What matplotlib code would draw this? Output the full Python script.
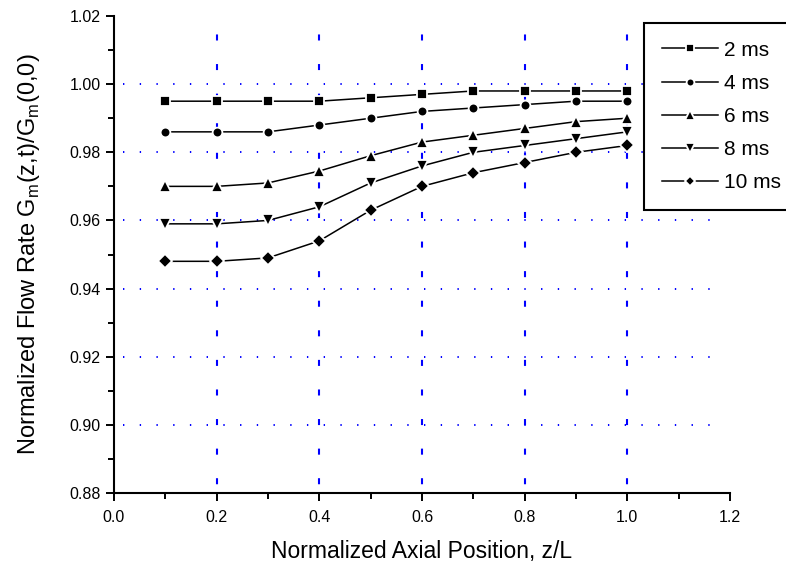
import numpy as np
import matplotlib
matplotlib.use('Agg')
import matplotlib.pyplot as plt
from matplotlib.ticker import MultipleLocator

# Normalized flow rate along the channel at several times
z = [0.1, 0.2, 0.3, 0.4, 0.5, 0.6, 0.7, 0.8, 0.9, 1.0]
g_2ms = [0.995, 0.995, 0.995, 0.995, 0.996, 0.997, 0.998, 0.998, 0.998, 0.998]
g_4ms = [0.986, 0.986, 0.986, 0.988, 0.990, 0.992, 0.993, 0.994, 0.995, 0.995]
g_6ms = [0.970, 0.970, 0.971, 0.9745, 0.979, 0.983, 0.985, 0.987, 0.989, 0.990]
g_8ms = [0.959, 0.959, 0.960, 0.964, 0.971, 0.976, 0.980, 0.982, 0.984, 0.986]
g_10ms = [0.948, 0.948, 0.949, 0.954, 0.963, 0.970, 0.974, 0.977, 0.980, 0.982]

labels = ['2 ms', '4 ms', '6 ms', '8 ms', '10 ms']
markers = ['s', 'o', '^', 'v', 'D']
sizes = [7, 7, 8.5, 8.5, 7]

xticks = [0.0, 0.2, 0.4, 0.6, 0.8, 1.0, 1.2]
yticks = [0.88, 0.90, 0.92, 0.94, 0.96, 0.98, 1.00, 1.02]

plt.rcParams['font.family'] = ['Liberation Sans', 'DejaVu Sans']

fig = plt.figure(figsize=(7.86, 5.66), dpi=100)
ax = fig.add_axes([0.145, 0.129, 0.7838, 0.8427])

for g, lab, mk, ms in zip([g_2ms, g_4ms, g_6ms, g_8ms, g_10ms], labels, markers, sizes):
    ax.plot(z, g, color='black', linewidth=1.1, marker=mk, markersize=ms,
            markerfacecolor='black', markeredgecolor='white',
            markeredgewidth=1.3, label=lab, zorder=3)

ax.set_xlim(0.0, 1.2)
ax.set_ylim(0.88, 1.02)
ax.set_xticks(xticks)
ax.set_xticklabels(['%.1f' % v for v in xticks])
ax.set_yticks(yticks)
ax.set_yticklabels(['%.2f' % v for v in yticks])
ax.xaxis.set_minor_locator(MultipleLocator(0.1))
ax.yaxis.set_minor_locator(MultipleLocator(0.01))

ax.spines['top'].set_visible(False)
ax.spines['right'].set_visible(False)
ax.spines['left'].set_linewidth(1.5)
ax.spines['bottom'].set_linewidth(1.5)
ax.tick_params(which='major', direction='out', length=5.5, width=1.4,
               labelsize=11.5)
ax.tick_params(axis='x', which='major', pad=6.5)
ax.tick_params(axis='y', which='major', pad=4)
ax.tick_params(which='minor', direction='out', length=4, width=1.4)

# blue grid: dotted rows, dashed columns
for yv in yticks[1:-1]:
    ax.axhline(yv, color='#0000ff', linewidth=1.4, linestyle=(0, (0.7, 7.9)),
               zorder=0, xmin=0.015, xmax=0.985)
for xv in xticks[1:-1]:
    ax.axvline(xv, color='#0000ff', linewidth=1.5, linestyle=(10, (2.9, 11.3)),
               zorder=0)

ax.set_xlabel('Normalized Axial Position, z/L', fontsize=16.5, labelpad=11)
ax.set_ylabel('Normalized Flow Rate G$_\\mathregular{m}$(z,t)/G$_\\mathregular{m}$(0,0)',
              fontsize=17, labelpad=20)

leg = fig.legend(loc='upper left', bbox_to_anchor=(644 / 786, 1 - 23 / 566),
                 fontsize=15, handlelength=2.7, handletextpad=0.3,
                 borderpad=0.85, labelspacing=0.68, fancybox=False,
                 framealpha=1, edgecolor='black', borderaxespad=0,
                 markerscale=0.8)
leg.get_frame().set_linewidth(1.5)

fig.savefig('out.png', dpi=100)
